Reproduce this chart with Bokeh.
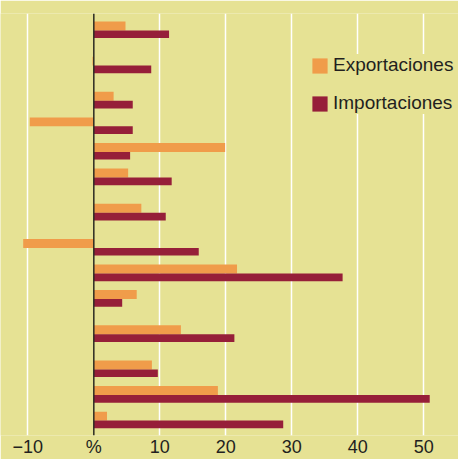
from bokeh.plotting import figure
from bokeh.models import Range1d, FixedTicker, Span, Legend, LegendItem, ColumnDataSource
from bokeh.embed import file_html
from bokeh.resources import INLINE

# ---- data (category labels are cropped off in the reference) ----
categories = [f"c{i}" for i in range(1, 15)]
exportaciones = [4.8, -0.2, 3.0, -9.7, 19.9, 5.2, 7.2, -10.7, 21.7, 6.5, 13.2, 8.8, 18.8, 2.0]
importaciones = [11.4, 8.7, 5.9, 5.9, 5.5, 11.8, 10.9, 15.9, 37.7, 4.3, 21.3, 9.7, 50.9, 28.7]
label_lines = [1, 2, 1, 1, 1, 1, 2, 1, 1, 1, 2, 1, 1, 1]   # lines of each (hidden) category label
x_ticks = [-10, 0, 10, 20, 30, 40, 50]
grid_ticks = [-10, 10, 20, 30, 40, 50]
tick_overrides = {0: "%"}
series_names = ["Exportaciones", "Importaciones"]

# ---- style ----
BG = "#e6e294"
ORANGE = "#f09c4a"
RED = "#961f39"
TXT = "#231f20"
FONT = "Liberation Sans"

# category slot layout (two-line labels take a taller slot)
slot = [1.0 if n == 1 else 1.75 for n in label_lines]
centers = []
acc = 0.0
for h in slot:
    centers.append(acc + h / 2)
    acc += h

src = ColumnDataSource(dict(
    cat=categories,
    exp=exportaciones,
    imp=importaciones,
    y_exp=[c - 0.175 for c in centers],
    y_imp=[c + 0.15 for c in centers],
))

p = figure(width=458, height=459, output_backend="svg", toolbar_location=None,
           y_axis_location=None, x_axis_location="below",
           x_range=Range1d(-14.14, 55.26), y_range=Range1d(16.333, -0.1614),
           min_border_left=0, min_border_right=0, min_border_top=13, min_border_bottom=22)
p.background_fill_color = BG
p.border_fill_color = BG
p.outline_line_color = None

r_exp = p.hbar(y="y_exp", left=0, right="exp", height=0.35, source=src,
               fill_color=ORANGE, line_color=None)
r_imp = p.hbar(y="y_imp", left=0, right="imp", height=0.30, source=src,
               fill_color=RED, line_color=None)

ax = p.xaxis[0]
ax.ticker = FixedTicker(ticks=x_ticks)
ax.major_label_overrides = tick_overrides
ax.axis_line_color = None
ax.major_tick_line_color = None
ax.minor_tick_line_color = None
ax.major_tick_out = 0
ax.major_tick_in = 0
ax.major_label_standoff = 1
ax.major_label_text_font = FONT
ax.major_label_text_font_size = "18px"
ax.major_label_text_color = TXT

p.xgrid.ticker = FixedTicker(ticks=grid_ticks)
p.xgrid.grid_line_color = "white"
p.xgrid.grid_line_width = 1.5
p.ygrid.grid_line_color = None

p.add_layout(Span(location=0, dimension="height", line_color="#2b2a22", line_width=1.5))

legend = Legend(items=[LegendItem(label=series_names[0], renderers=[r_exp]),
                       LegendItem(label=series_names[1], renderers=[r_imp])],
                location=(310, 321), orientation="vertical",
                glyph_width=19, glyph_height=19, label_height=15, label_standoff=4,
                spacing=16, padding=5, margin=0,
                border_line_color=None, background_fill_color=BG, background_fill_alpha=1,
                label_text_font=FONT, label_text_font_size="19px", label_text_color=TXT)
p.add_layout(legend)

open("out.html", "w").write(file_html(p, INLINE))
